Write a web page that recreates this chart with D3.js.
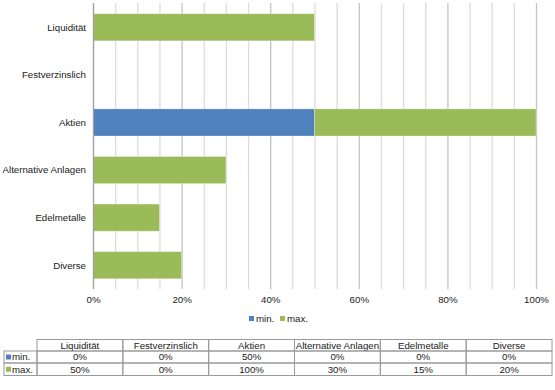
<!DOCTYPE html>
<html><head><meta charset="utf-8">
<script src="https://cdn.jsdelivr.net/npm/d3@7"></script>
<style>
html,body{margin:0;padding:0;background:#fff;}
svg{display:block;font-family:"Liberation Sans",Arial,sans-serif;}
</style></head>
<body><svg id="c" width="555" height="390"></svg>
<script>
const categories = ["Liquidität","Festverzinslich","Aktien","Alternative Anlagen","Edelmetalle","Diverse"];
const minValues = [0,0,50,0,0,0];
const maxValues = [50,0,100,30,15,20];
const seriesNames = ["min.","max."];
const seriesColors = ["#4f81bd","#9bbb59"];
const xTicks = [0,20,40,60,80,100];

const FS = 9.7;
const TC = "#1a1a1a";
const svg = d3.select("#c");
const x = d3.scaleLinear().domain([0,100]).range([93,536]);
const y = d3.scaleBand().domain(categories).range([3.5,289]).paddingInner(0.43).paddingOuter(0.215);

// gridlines every 5%
const grid = d3.range(0,101,5);
svg.append("g").selectAll("line").data(grid).join("line")
  .attr("x1",d=>x(d)+0.5).attr("x2",d=>x(d)+0.5)
  .attr("y1",3).attr("y2",289)
  .attr("stroke",d=>d%20===0?"#c4c4c4":"#dcdcdc").attr("stroke-width",1.3);

// axis
const ax = svg.append("g").attr("transform","translate(0,289)")
  .call(d3.axisBottom(x).tickValues(xTicks).tickFormat(d=>d+"%").tickSize(0).tickPadding(7));
ax.select(".domain").remove();
ax.selectAll("text").attr("font-size",FS).attr("fill",TC).attr("font-family","Liberation Sans, Arial, sans-serif");

// stacked bars: min, then max-min
const stackData = categories.map((c,i)=>({cat:c, s0:minValues[i], s1:maxValues[i]-minValues[i]}));
const stack = d3.stack().keys(["s0","s1"])(stackData);
svg.append("g").selectAll("g").data(stack).join("g")
  .attr("fill",(d,i)=>seriesColors[i])
  .selectAll("rect").data(d=>d.filter(p=>p[1]-p[0]>0)).join("rect")
  .attr("x",d=>x(d[0])).attr("width",d=>x(d[1])-x(d[0]))
  .attr("y",d=>y(d.data.cat)).attr("height",y.bandwidth())
  .attr("stroke","rgba(255,255,255,0.35)").attr("stroke-width",0.8);

// y axis line
svg.append("line").attr("x1",x(0)+0.5).attr("x2",x(0)+0.5).attr("y1",3).attr("y2",289)
  .attr("stroke","#a0a0a0").attr("stroke-width",1.2);

// category labels
svg.append("g").selectAll("text").data(categories).join("text")
  .attr("x",86).attr("y",d=>y(d)+y.bandwidth()/2).attr("dy","0.35em")
  .attr("text-anchor","end").attr("font-size",FS).attr("fill",TC).text(d=>d);

// legend
const lg = svg.append("g");
const legX = [249,280];
seriesNames.forEach((n,i)=>{
  lg.append("rect").attr("x",legX[i]).attr("y",316).attr("width",5).attr("height",5).attr("fill",seriesColors[i]);
  lg.append("text").attr("x",legX[i]+7).attr("y",319).attr("dy","0.35em").attr("font-size",FS).attr("fill",TC).text(n);
});

// data table
const tX0 = 4, tCol0 = 37, tRight = 552;
const colW = (tRight - tCol0)/categories.length;
const rowsY = [339.5,351,363,375.5];
const tg = svg.append("g");
const bc = "#9a9a9a";
categories.forEach((c,i)=>{
  const cx = tCol0 + colW*i;
  tg.append("rect").attr("x",cx).attr("y",rowsY[0]).attr("width",colW).attr("height",rowsY[1]-rowsY[0])
    .attr("fill","none").attr("stroke",bc).attr("stroke-width",1);
  tg.append("text").attr("x",cx+colW/2).attr("y",(rowsY[0]+rowsY[1])/2).attr("dy","0.35em")
    .attr("text-anchor","middle").attr("font-size",FS).attr("fill",TC).text(c);
});
const rows = [minValues,maxValues];
rows.forEach((vals,r)=>{
  const y0 = rowsY[r+1], y1 = rowsY[r+2];
  tg.append("rect").attr("x",tX0).attr("y",y0).attr("width",tCol0-tX0).attr("height",y1-y0)
    .attr("fill","none").attr("stroke",bc).attr("stroke-width",1);
  tg.append("rect").attr("x",tX0+2).attr("y",(y0+y1)/2-2.5).attr("width",5).attr("height",5).attr("fill",seriesColors[r]);
  tg.append("text").attr("x",tX0+8).attr("y",(y0+y1)/2).attr("dy","0.35em").attr("font-size",FS).attr("fill",TC).text(seriesNames[r]);
  vals.forEach((v,i)=>{
    const cx = tCol0 + colW*i;
    tg.append("rect").attr("x",cx).attr("y",y0).attr("width",colW).attr("height",y1-y0)
      .attr("fill","none").attr("stroke",bc).attr("stroke-width",1);
    tg.append("text").attr("x",cx+colW/2).attr("y",(y0+y1)/2).attr("dy","0.35em")
      .attr("text-anchor","middle").attr("font-size",FS).attr("fill",TC).text(v+"%");
  });
});
</script></body></html>
